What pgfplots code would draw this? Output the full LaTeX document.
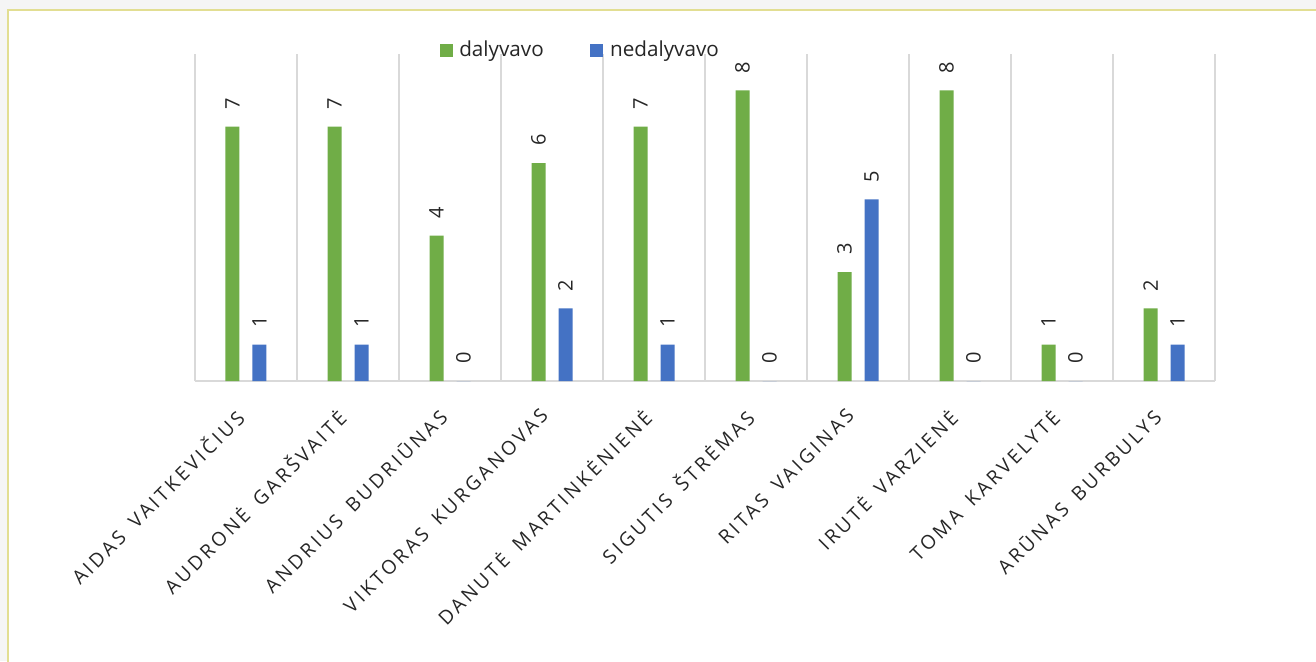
\documentclass[border=0pt]{standalone}
\usepackage{pgfplots}
\pgfplotsset{compat=1.18}
\usepackage{fontspec}
\setmainfont{Open Sans}
\newfontfamily\tickfont[LetterSpace=16, WordSpace=1.6]{Open Sans}
\definecolor{dgreen}{HTML}{70AD47}
\definecolor{dblue}{HTML}{4472C4}
\definecolor{gridgray}{HTML}{D9D9D9}
\definecolor{txt}{HTML}{262626}
\definecolor{framecol}{HTML}{E2DE92}
\begin{document}
\begin{tikzpicture}[x=1pt,y=1pt]
% page: 1316 x 661 px, 1 px = 0.75pt, origin = lower left of plot area
\path[use as bounding box, fill=gray!8] (-146.25,-210) rectangle (840.75,285.75);
\fill[white] (-140.25,-215) rectangle (850,278.25);
\draw[framecol, line width=1.6pt] (-140.25,-215) -- (-140.25,278.25) -- (850,278.25);
\begin{axis}[
  at={(0,0)}, anchor=south west,
  scale only axis, width=765pt, height=245.25pt,
  ybar=9.75pt, bar width=10.5pt,
  xmin=-0.5, xmax=9.5, ymin=0, ymax=9,
  xtick=data,
  xticklabels={AIDAS VAITKEVIČIUS, AUDRONĖ GARŠVAITĖ, ANDRIUS BUDRIŪNAS, VIKTORAS KURGANOVAS, DANUTĖ MARTINKĖNIENĖ, SIGUTIS ŠTRĖMAS, RITAS VAIGINAS, IRUTĖ VARZIENĖ, TOMA KARVELYTĖ, ARŪNAS BURBULYS},
  minor xtick={-0.5,0.5,...,9.5},
  xminorgrids, minor grid style={gridgray, line width=1.1pt},
  major tick length=0pt, minor tick length=0pt,
  ytick=\empty,
  axis y line=none, axis x line*=bottom,
  x axis line style={gridgray, line width=1.1pt, -},
  xticklabel style={xshift=-9.5pt, yshift=-19.5pt, rotate=45, anchor=north east, inner sep=0pt,
    font={\fontsize{14.5}{16}\tickfont}, text=txt},
  /pgf/number format/assume math mode=true,
  nodes near coords, nodes near coords align={horizontal},
  every node near coord/.append style={rotate=90, inner xsep=12.75pt, inner ysep=0pt,
    font=\fontsize{15}{15}\selectfont, text=txt},
  legend style={at={(0.380,1.012)}, anchor=center, draw=none, fill=none,
    legend columns=2, font=\fontsize{15.5}{16}\selectfont, text=txt,
    /tikz/every even column/.append style={column sep=30pt},
    nodes={inner xsep=5pt}},
  legend image code/.code={\fill[#1] (0pt,-4.875pt) rectangle (9.75pt,4.875pt);},
  clip=false,
]
\addplot[fill=dgreen, draw=none] coordinates {
  (0,7) (1,7) (2,4) (3,6) (4,7) (5,8) (6,3) (7,8) (8,1) (9,2)};
\addplot[fill=dblue, draw=none] coordinates {
  (0,1) (1,1) (2,0) (3,2) (4,1) (5,0) (6,5) (7,0) (8,0) (9,1)};
\legend{dalyvavo, nedalyvavo}
\end{axis}
\end{tikzpicture}
\end{document}
